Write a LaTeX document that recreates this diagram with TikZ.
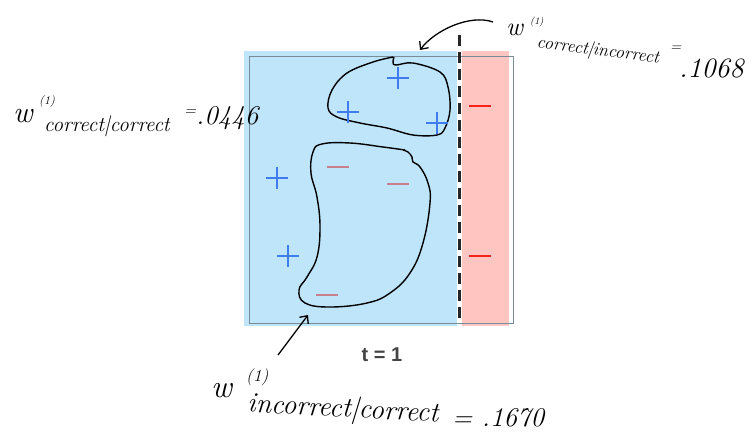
\documentclass[tikz,border=0pt]{standalone}
\usepackage{fontspec}
\newfontfamily\tfont{Liberation Sans}
\usetikzlibrary{arrows.meta}
\definecolor{bluefill}{HTML}{BFE5FB}
\definecolor{redfill}{HTML}{FFC6C1}
\definecolor{outl}{HTML}{7B8C96}
\definecolor{plusblue}{HTML}{3E7CF0}
\definecolor{dimred}{HTML}{C97E8B}
\definecolor{brightred}{HTML}{F8221A}
\definecolor{tgray}{HTML}{444444}
\tikzset{
  hand/.style={inner sep=0pt, anchor=base west, font=\itshape},
  blob/.style={line width=1.4pt, black},
  pointer/.style={line width=1.3pt, black, -{Straight Barb[length=6pt,width=11pt,line width=1.3pt]}},
  pics/plussym/.style={code={\draw[plusblue, line width=2.6pt] (-11,0) -- (11,0) (0,-11) -- (0,11);}},
  pics/dimminus/.style={code={\draw[dimred, line width=2.6pt] (-11,0) -- (11,0);}},
  pics/redminus/.style={code={\draw[brightred, line width=2.8pt] (-11,0) -- (11,0);}},
}
\begin{document}
\begin{tikzpicture}[x=1pt,y=-1pt]
\useasboundingbox (0,0) rectangle (756,432);
% regions
\fill[bluefill] (244,51) rectangle (457,326);
\fill[redfill] (462,51) rectangle (509,326);
\draw[outl, line width=0.9pt] (249,56) rectangle (513,323);
\draw[black!85, line width=3pt, dash pattern=on 11pt off 6pt] (459,35) -- (459,323);
% blobs
\draw[blob] plot[smooth, tension=0.6] coordinates {(394,57) (393,62) (396,65) (413,63) (440,72) (448,87) (450,110) (445,128) (437,135) (413,135) (387,128) (360,123) (337,117) (328,108) (332,90) (347,73) (373,62) (393,57)};
\draw[blob] plot[smooth, tension=0.7] coordinates {(405,150) (383,147) (350,143) (322,144) (313,152) (311,173) (317,197) (320,227) (317,257) (307,277) (299,290) (305,303) (330,307) (367,303) (390,293) (410,273) (423,243) (430,203) (428,183) (420,167) (413,162) (412,157) (408,152) (403,150)};
% symbols
\pic at (398,78) {plussym};
\pic at (348,112) {plussym};
\pic at (437,123) {plussym};
\pic at (277,178) {plussym};
\pic at (288,256) {plussym};
\pic at (338,167) {dimminus};
\pic at (398,184) {dimminus};
\pic at (327,295) {dimminus};
\pic at (480,106) {redminus};
\pic at (480,256) {redminus};
% caption
\node[font=\tfont\bfseries\fontsize{20}{20}\selectfont, text=tgray] (tcap) at (382,355) {t = 1};
% left label
\node[hand, font=\itshape\fontsize{30}{30}\selectfont] (lw) at (13,122) {w};
\node[hand, font=\itshape\fontsize{12}{12}\selectfont] (l1) at (39,104) {(1)};
\node[hand, font=\itshape\fontsize{21}{21}\selectfont] (lsub) at (44,131) {correct|correct};
\node[hand, font=\itshape\fontsize{16}{16}\selectfont] (leq) at (184,115) {=};
\node[hand, font=\itshape\fontsize{27}{27}\selectfont] (lval) at (196,124) {.0446};
% top right label
\node[hand, font=\itshape\fontsize{26}{26}\selectfont] (rw) at (506,35) {w};
\node[hand, font=\itshape\fontsize{10}{10}\selectfont] (r1) at (530,24) {(1)};
\node[inner sep=0pt, font=\itshape\fontsize{18}{18}\selectfont, rotate=-7] (rsub) at (598,51) {correct|incorrect};
\node[hand, font=\itshape\fontsize{15}{15}\selectfont] (req) at (670,51) {=};
\node[hand, font=\itshape\fontsize{28}{28}\selectfont] (rval) at (679,77) {.1068};
% bottom label
\node[hand, font=\itshape\fontsize{32}{32}\selectfont] (bw) at (211,397) {w};
\node[hand, font=\itshape\fontsize{17}{17}\selectfont] (b1) at (246,381) {(1)};
\node[inner sep=0pt, font=\itshape\fontsize{28}{28}\selectfont, rotate=-3] (bsub) at (343,410) {incorrect|correct};
\node[hand, font=\itshape\fontsize{27}{27}\selectfont] (bval) at (452,426) {= .1670};
% pointers
\coordinate (tstart) at (493,22);
\coordinate (ttip) at (420,50);
\coordinate (bstart) at (278,355);
\coordinate (btip) at (308,315);
\draw[pointer] (tstart) .. controls (470,14) and (435,30) .. (ttip);
\draw[pointer] (bstart) -- (btip);
\end{tikzpicture}
\end{document}
